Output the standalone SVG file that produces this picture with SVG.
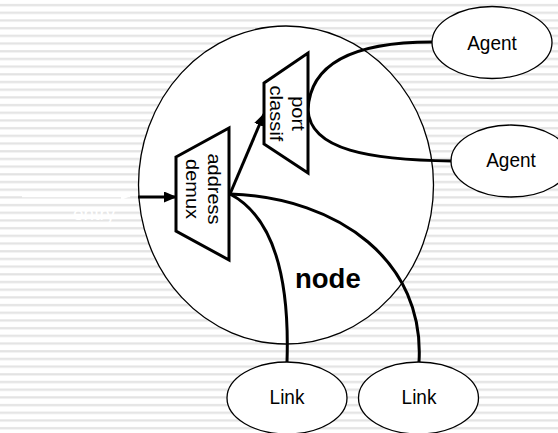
<svg xmlns="http://www.w3.org/2000/svg" width="558" height="433" viewBox="0 0 558 433">
<defs>
<pattern id="stripes" patternUnits="userSpaceOnUse" x="0" y="0" width="558" height="7.6923">
<rect x="0" y="0" width="558" height="7.6923" fill="#ffffff"/>
<rect x="0" y="4" width="558" height="2.2" fill="#e3e3e3"/>
</pattern>
<marker id="arr" viewBox="0 0 13 11" refX="12" refY="5.5" markerWidth="13" markerHeight="11" markerUnits="userSpaceOnUse" orient="auto">
<path d="M0,0 L13,5.5 L0,11 Z" fill="#000"/>
</marker>
<marker id="warr" viewBox="0 0 10 8" refX="9" refY="4" markerWidth="10" markerHeight="8" markerUnits="userSpaceOnUse" orient="auto">
<path d="M0,0 L10,4 L0,8 Z" fill="#fff"/>
</marker>
</defs>
<style>
.ell{fill:#fff;stroke:#000;stroke-width:1.3}
.trap{fill:#fff;stroke:#000;stroke-width:3;stroke-linejoin:miter}
.con{fill:none;stroke:#000;stroke-width:3}
.lbl{font-family:"Liberation Sans",Arial,sans-serif;font-size:19px;fill:#000;text-anchor:middle}
.vlbl{font-family:"Liberation Sans",Arial,sans-serif;fill:#000;text-anchor:middle}
</style>
<rect x="0" y="0" width="558" height="433" fill="url(#stripes)"/>
<g id="entry">
<line x1="22" y1="196" x2="130" y2="196" stroke="#fff" stroke-width="2.5" marker-end="url(#warr)"/>
<text x="73" y="220" font-family="Liberation Sans, Arial, sans-serif" font-size="19" fill="#fff">entry_</text>
</g>
<g id="node">
<ellipse class="ell" cx="286" cy="185" rx="147.5" ry="159"/>
<text x="295" y="288" font-family="Liberation Sans, Arial, sans-serif" font-size="27.5" font-weight="bold" fill="#000">node</text>
</g>
<g id="connectors">
<line class="con" x1="138" y1="197" x2="176" y2="197" marker-end="url(#arr)"/>
<line class="con" x1="230" y1="194" x2="264" y2="114" marker-end="url(#arr)"/>
<path class="con" d="M230,194 C270,215 290,270 287,362"/>
<path class="con" d="M230,194 C340,198 425,262 419,362"/>
<path class="con" d="M308,110 C310,60 360,42 432,42"/>
<path class="con" d="M308,110 C310,150 370,160 452,161"/>
</g>
<g id="address-demux">
<polygon class="trap" points="176,157 229,128 229,260 176,231"/>
<text class="vlbl" font-size="18.5" transform="translate(208,189) rotate(90) scale(1.08,1)">address</text>
<text class="vlbl" font-size="18.5" transform="translate(185.5,189) rotate(90) scale(1.08,1)">demux</text>
</g>
<g id="port-classif">
<polygon class="trap" points="264,83 308,53 308,173 264,144"/>
<text class="vlbl" font-size="19" transform="translate(291.5,113.5) rotate(90) scale(1.06,1)">port</text>
<text class="vlbl" font-size="19" transform="translate(269.5,113.5) rotate(90) scale(1.06,1)">classif</text>
</g>
<g id="agent1">
<ellipse class="ell" cx="492" cy="42.5" rx="60" ry="36"/>
<text class="lbl" transform="translate(492,49.5) scale(1,1.07)">Agent</text>
</g>
<g id="agent2">
<ellipse class="ell" cx="511" cy="161" rx="60" ry="36"/>
<text class="lbl" transform="translate(511,167) scale(1,1.07)">Agent</text>
</g>
<g id="link1">
<ellipse class="ell" cx="287" cy="398" rx="60" ry="36"/>
<text class="lbl" transform="translate(287,404) scale(1,1.07)">Link</text>
</g>
<g id="link2">
<ellipse class="ell" cx="418.5" cy="398" rx="60" ry="36"/>
<text class="lbl" transform="translate(419,404) scale(1,1.07)">Link</text>
</g>
</svg>
